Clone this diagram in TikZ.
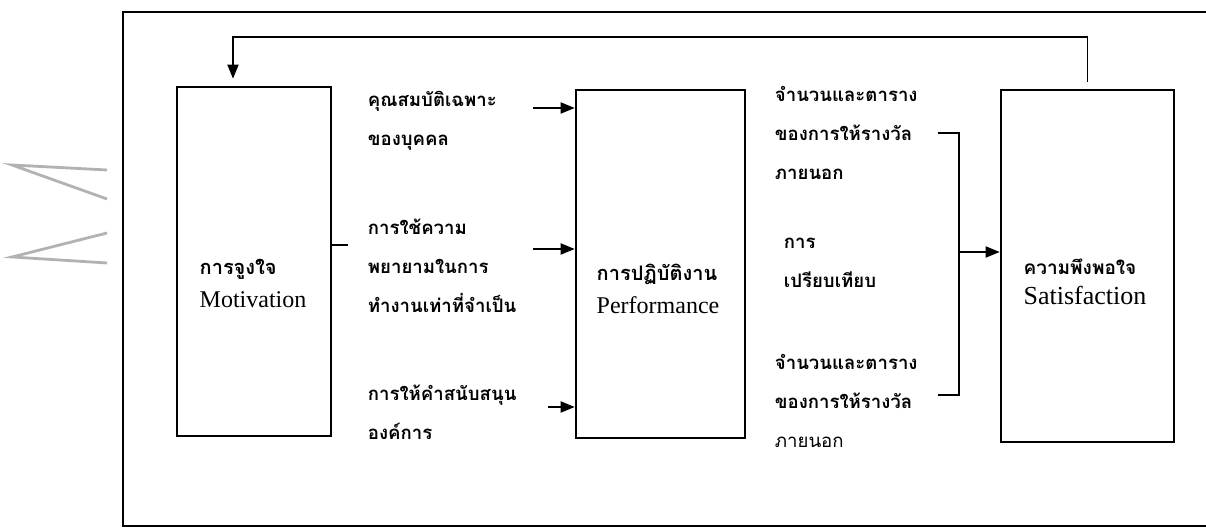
\documentclass[tikz,border=0pt]{standalone}
\usepackage{fontspec}
\setmainfont{Liberation Serif}
\newfontfamily\thaifont[Script=Thai]{Loma}
\usetikzlibrary{arrows.meta}

\begin{document}
\begin{tikzpicture}[x=0.5pt, y=-0.5pt, >={Triangle[length=7pt,width=5.5pt]}, line width=0.9pt,
    block/.style={draw, line width=1.3pt, inner sep=0pt},
    thtext/.style={anchor=west, align=left, inner sep=0pt, font=\thaifont\bfseries\fontsize{9.3}{19.5}\selectfont},
    boxlabel/.style={align=left, inner sep=0pt, font=\fontsize{12}{16.5}\selectfont}]
    \useasboundingbox (0,0) rectangle (1206,528);

    % faint marks at the left margin
    \draw[gray!60, line width=1.4pt] (107,170) -- (12,165) -- (107,199);
    \draw[gray!60, line width=1.4pt] (107,233) -- (12,257) -- (107,263);

    % frame
    \draw (1206,12) -- (123,12) -- (123,526) -- (1206,526);

    % boxes
    \node[block, minimum width=77pt, minimum height=174.5pt] (mot) at (254,261.5) {};
    \node[block, minimum width=84.5pt, minimum height=174pt] (perf) at (660.5,264) {};
    \node[block, minimum width=86.5pt, minimum height=176pt] (sat) at (1087.5,266) {};

    \node[boxlabel] (motlabel) at (253,283.5) {{\thaifont\bfseries\fontsize{10}{16.5}\selectfont การจูงใจ}\\Motivation};
    \node[boxlabel] (perflabel) at (658,288.5) {{\thaifont\bfseries\fontsize{10}{16.5}\selectfont การปฏิบัติงาน}\\Performance};
    \node[boxlabel, font=\fontsize{13}{15}\selectfont] (satlabel) at (1085,282) {{\thaifont\bfseries\fontsize{9.5}{15}\selectfont ความพึงพอใจ}\\Satisfaction};

    % inputs
    \node[thtext] (trait) at (367,120.5) {คุณสมบัติเฉพาะ\\ของบุคคล};
    \node[thtext] (effort) at (367,266) {การใช้ความ\\พยายามในการ\\ทำงานเท่าที่จำเป็น};
    \node[thtext] (support) at (367,412.5) {การให้คำสนับสนุน\\องค์การ};

    % rewards
    \node[thtext] (reward1) at (774,132.5) {จำนวนและตาราง\\ของการให้รางวัล\\ภายนอก};
    \node[thtext] (compare) at (783,263) {การ\\เปรียบเทียบ};
    \node[thtext] (reward2) at (774,401) {จำนวนและตาราง\\ของการให้รางวัล\\{\mdseries ภายนอก}};

    \coordinate (in1) at (533,108);
    \coordinate (in2) at (533,249);
    \coordinate (in3) at (548,407);
    \draw[->] (in1) -- (in1 -| perf.west);
    \draw[->] (in2) -- (in2 -| perf.west);
    \draw[->] (in3) -- (in3 -| perf.west);

    \coordinate (motout) at (348,245);
    \draw (motout -| mot.east) -- (motout);

    \coordinate (br1) at (938,133);
    \coordinate (br2) at (938,395);
    \coordinate (brmid) at (959,252);
    \draw (br1) -- (br1 -| brmid) -- (br2 -| brmid) -- (br2);
    \draw[->] (brmid) -- (brmid -| sat.west);

    % feedback
    \coordinate (fb) at (233,37);
    \draw[->] ([yshift=3.5pt]sat.north) |- (fb) -- ([yshift=3.5pt]mot.north -| fb);
\end{tikzpicture}
\end{document}
